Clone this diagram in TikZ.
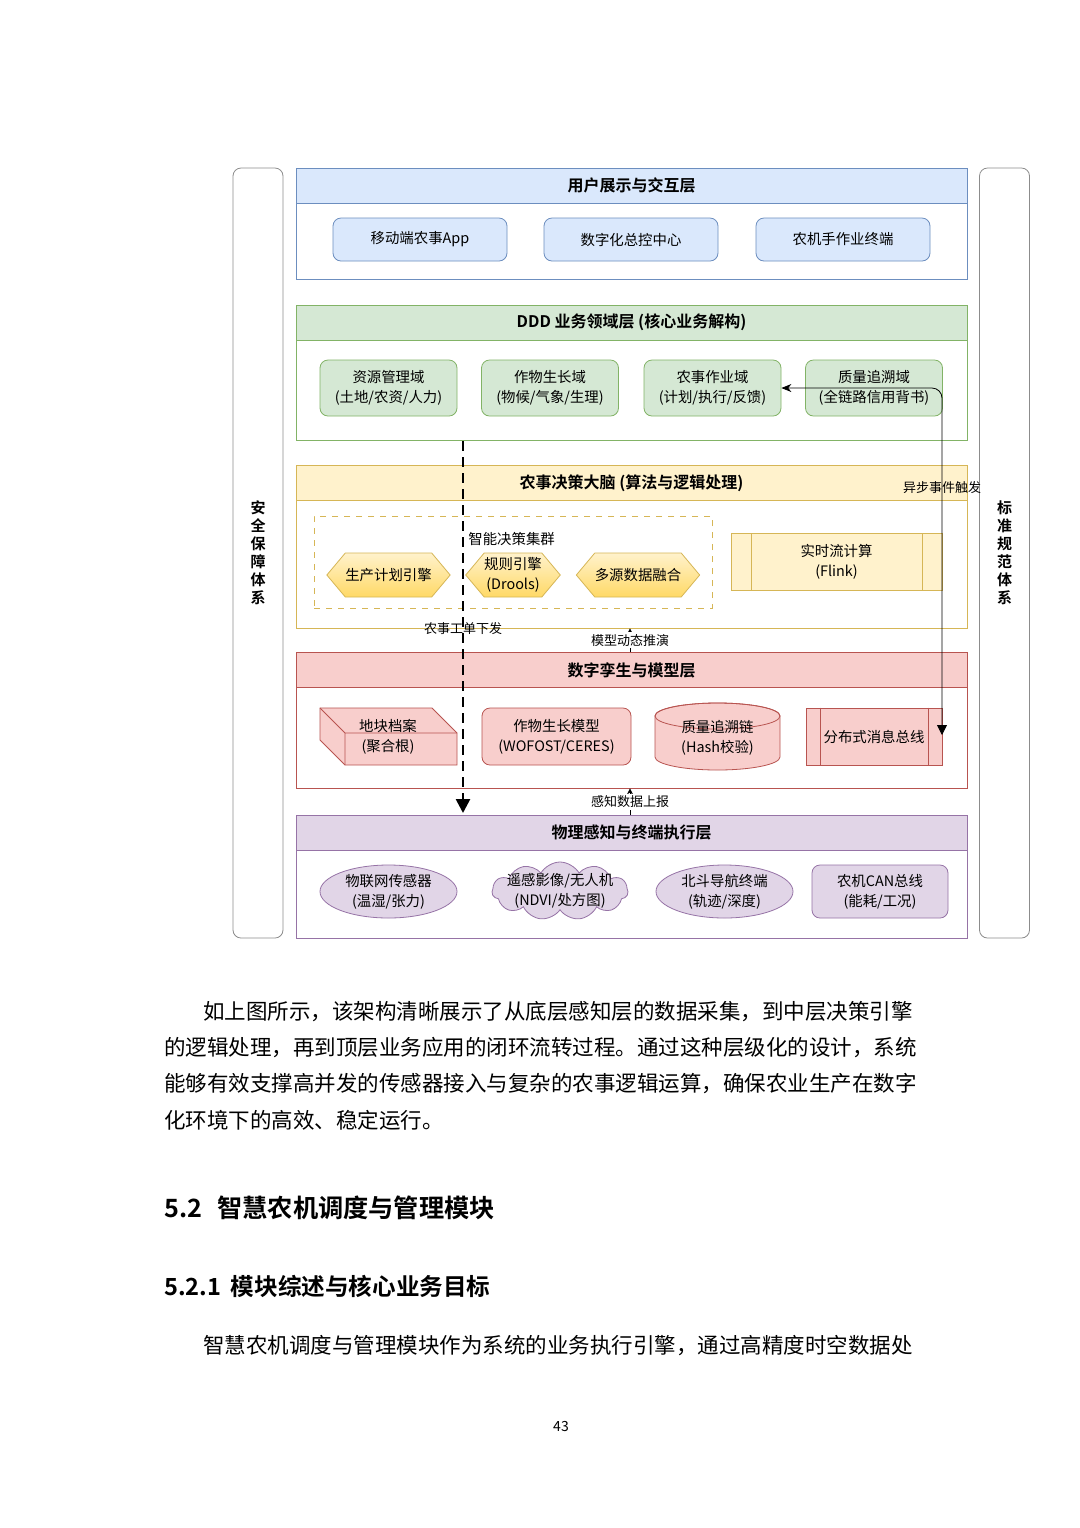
\documentclass[tikz,border=0pt]{standalone}
\usepackage{fontspec}
\newfontfamily\cjk{Noto Sans CJK SC}[BoldFont={Noto Sans CJK SC Bold}]
\usepackage{tikz}
\usetikzlibrary{positioning,arrows.meta,shapes.geometric,shapes.symbols}

\definecolor{bluefill}{HTML}{DAE8FC}\definecolor{blueline}{HTML}{6C8EBF}
\definecolor{greenfill}{HTML}{D5E8D4}\definecolor{greenline}{HTML}{82B366}
\definecolor{yellowfill}{HTML}{FFF2CC}\definecolor{yellowline}{HTML}{D6B656}
\definecolor{redfill}{HTML}{F8CECC}\definecolor{redline}{HTML}{B85450}
\definecolor{purplefill}{HTML}{E1D5E7}\definecolor{purpleline}{HTML}{9673A6}
\definecolor{hexdeep}{HTML}{FFD966}
\definecolor{sideline}{HTML}{8C8C8C}

\begin{document}
\begin{tikzpicture}[
  x=0.5pt, y=-0.5pt,
  font=\cjk\fontsize{7.2}{10}\selectfont,
  >=Stealth,
  panel/.style={draw=#1line, fill=white, minimum width=335.5pt, inner sep=0pt},
  head/.style={draw=#1line, fill=#1fill, minimum width=335.5pt, minimum height=17.5pt, inner sep=0pt, font=\cjk\bfseries\fontsize{8}{9}\selectfont},
  card/.style={draw=#1line, fill=#1fill, rounded corners=4pt, align=center, inner sep=0pt},
  proc/.style={draw=#1line, fill=#1fill, align=center, inner sep=0pt},
  hexa/.style={signal, signal to=east and west, signal pointer angle=100, draw=yellowline, top color=yellowfill, bottom color=hexdeep, minimum width=46pt, minimum height=22pt, align=center, inner sep=0pt},
  blob/.style={ellipse, draw=purpleline, fill=purplefill, align=center, inner sep=0pt, minimum width=68.5pt, minimum height=26.5pt},
  side/.style={draw=sideline, fill=white, rounded corners=4pt, minimum width=25pt, minimum height=385pt},
  sidetext/.style={align=center, font=\cjk\bfseries\fontsize{7.5}{9}\selectfont},
  note/.style={font=\cjk\fontsize{6.5}{8}\selectfont, inner sep=1pt},
  para/.style={anchor=west, inner sep=0pt, font=\cjk\fontsize{10.75}{12}\selectfont},
  order/.style={line width=1.3pt, dash pattern=on 5pt off 3pt, -{Triangle[width=7pt,length=7pt]}}
]
\fill[white] (0,0) rectangle (1080,1528);
\useasboundingbox (0,0) rectangle (1080,1528);

% side bars
\node[side] (safe) at (258,553) {};
\node[sidetext] at (safe) {安\\全\\保\\障\\体\\系};
\node[side] (norm) at (1004.5,553) {};
\node[sidetext] at (norm) {标\\准\\规\\范\\体\\系};

% user layer
\node[panel=blue, minimum height=55.5pt] (ui) at (631.5,223.5) {};
\node[head=blue] (uihead) at (631.5,185.5) {用户展示与交互层};
\node[card=blue, minimum width=87pt, minimum height=21.5pt] (app) at (420,239.5) {移动端农事App};
\node[card=blue, minimum width=87pt, minimum height=21.5pt] (center) at (631,239.5) {数字化总控中心};
\node[card=blue, minimum width=87pt, minimum height=21.5pt] (term) at (843,239.5) {农机手作业终端};

% domain layer
\node[panel=green, minimum height=67.5pt] (dom) at (631.5,372.5) {};
\node[head=green] (domhead) at (631.5,322.5) {DDD 业务领域层 (核心业务解构)};
\node[card=green, minimum width=68.5pt, minimum height=28pt] (resdom) at (388.5,388) {资源管理域\\(土地/农资/人力)};
\node[card=green, minimum width=68.5pt, minimum height=28pt] (cropdom) at (550,388) {作物生长域\\(物候/气象/生理)};
\node[card=green, minimum width=68.5pt, minimum height=28pt] (opsdom) at (712.5,388) {农事作业域\\(计划/执行/反馈)};
\node[card=green, minimum width=68.5pt, minimum height=28pt] (tracedom) at (874,388) {质量追溯域\\(全链路信用背书)};

% decision layer
\node[panel=yellow, minimum height=81pt] (brain) at (631.5,547) {};
\node[head=yellow] (brainhead) at (631.5,483) {农事决策大脑 (算法与逻辑处理)};
\node[draw=yellowline, dashed, minimum width=199pt, minimum height=46pt] (cluster) at (513,562) {};
\node[anchor=west, inner sep=0pt] (clustertext) at (468,539) {智能决策集群};
\node[hexa] (plan) at (388.5,575) {生产计划引擎};
\node[hexa] (rule) at (513,575) {规则引擎\\(Drools)};
\node[hexa] (fusion) at (638,575) {多源数据融合};
\node[proc=yellow, minimum width=105.5pt, minimum height=28.5pt] (flink) at (836.5,562) {实时流计算\\(Flink)};
\draw[yellowline] ([xshift=10.5pt]flink.north west) -- ([xshift=10.5pt]flink.south west);
\draw[yellowline] ([xshift=-10pt]flink.north east) -- ([xshift=-10pt]flink.south east);

% twin layer
\node[panel=red, minimum height=67.5pt] (twin) at (631.5,720.5) {};
\node[head=red] (twinhead) at (631.5,670) {数字孪生与模型层};
\filldraw[draw=redline, fill=redfill] (320,708) -- (432,708) -- (457,733) -- (457,765) -- (345,765) -- (320,740) -- cycle;
\draw[redline] (320,708) -- (345,733) -- (457,733) (345,733) -- (345,765);
\node[align=center] (plot) at (388,737) {地块档案\\(聚合根)};
\node[card=red, minimum width=74.5pt, minimum height=28.5pt] (growth) at (556.5,736.5) {作物生长模型\\(WOFOST/CERES)};
\filldraw[draw=redline, fill=redfill] (655,716) -- (655,757) arc[start angle=180, end angle=360, x radius=31.25pt, y radius=6.5pt] -- (780,716) arc[start angle=0, end angle=180, x radius=31.25pt, y radius=6.5pt] -- cycle;
\draw[redline] (717.5,716) ellipse[x radius=31.25pt, y radius=6.5pt];
\node[align=center] (chain) at (717.5,738) {质量追溯链\\(Hash校验)};
\node[proc=red, minimum width=68pt, minimum height=28.5pt] (bus) at (874,736.5) {分布式消息总线};
\draw[redline] ([xshift=7.5pt]bus.north west) -- ([xshift=7.5pt]bus.south west);
\draw[redline] ([xshift=-7pt]bus.north east) -- ([xshift=-7pt]bus.south east);

% physical layer
\node[panel=purple, minimum height=61.5pt] (phys) at (631.5,876.5) {};
\node[head=purple] (physhead) at (631.5,832.5) {物理感知与终端执行层};
\node[blob] (iot) at (388.5,891.5) {物联网传感器\\(温湿/张力)};
\node[cloud, cloud puffs=11, cloud puff arc=120, aspect=2.4, draw=purpleline, fill=purplefill, inner sep=0pt, minimum width=68pt, minimum height=29pt] (uav) at (560,891) {};
\node[align=center] (uavtext) at (uav) {遥感影像/无人机\\(NDVI/处方图)};
\node[blob] (gnss) at (724.5,891.5) {北斗导航终端\\(轨迹/深度)};
\node[card=purple, minimum width=68pt, minimum height=26.5pt] (can) at (880,891.5) {农机CAN总线\\(能耗/工况)};

% connectors
\coordinate (orderfrom) at (463,441);
\coordinate (orderto) at (463,813);
\coordinate (midx) at (630,0);
\coordinate (busin) at (942,735);
\draw[order] (orderfrom) -- (orderto);
\node[note] (orderlabel) at (463,629) {农事工单下发};
\draw[{Stealth[length=5pt,width=4pt]}-{Triangle[length=5pt,width=5pt]}, rounded corners=5pt] (opsdom.east) -| (busin);
\node[note] (asynclabel) at (942,488) {异步事件触发};
\draw[->, >={Stealth[length=3pt,width=3pt]}] (twinhead.north -| midx) -- (brain.south -| midx) node[midway, fill=white, note] {模型动态推演};
\draw[->, >={Stealth[length=3pt,width=3pt]}] (physhead.north -| midx) -- (twin.south -| midx) node[midway, fill=white, note] {感知数据上报};

% text below the figure
\node[para] (p1) at (203,1012) {如上图所示，该架构清晰展示了从底层感知层的数据采集，到中层决策引擎};
\node[para] (p2) at (164,1048) {的逻辑处理，再到顶层业务应用的闭环流转过程。通过这种层级化的设计，系统};
\node[para] (p3) at (164,1084) {能够有效支撑高并发的传感器接入与复杂的农事逻辑运算，确保农业生产在数字};
\node[para] (p4) at (164,1120) {化环境下的高效、稳定运行。};
\node[para, font=\cjk\bfseries\fontsize{12.6}{14}\selectfont] (h1) at (164,1208) {5.2\hspace{0.6em}智慧农机调度与管理模块};
\node[para, font=\cjk\bfseries\fontsize{11.8}{13}\selectfont] (h2) at (164,1286) {5.2.1\hspace{0.4em}模块综述与核心业务目标};
\node[para] (p5) at (203,1346) {智慧农机调度与管理模块作为系统的业务执行引擎，通过高精度时空数据处};
\node[font=\cjk\fontsize{7}{8}\selectfont] (pageno) at (561,1426) {43};
\end{tikzpicture}
\end{document}
